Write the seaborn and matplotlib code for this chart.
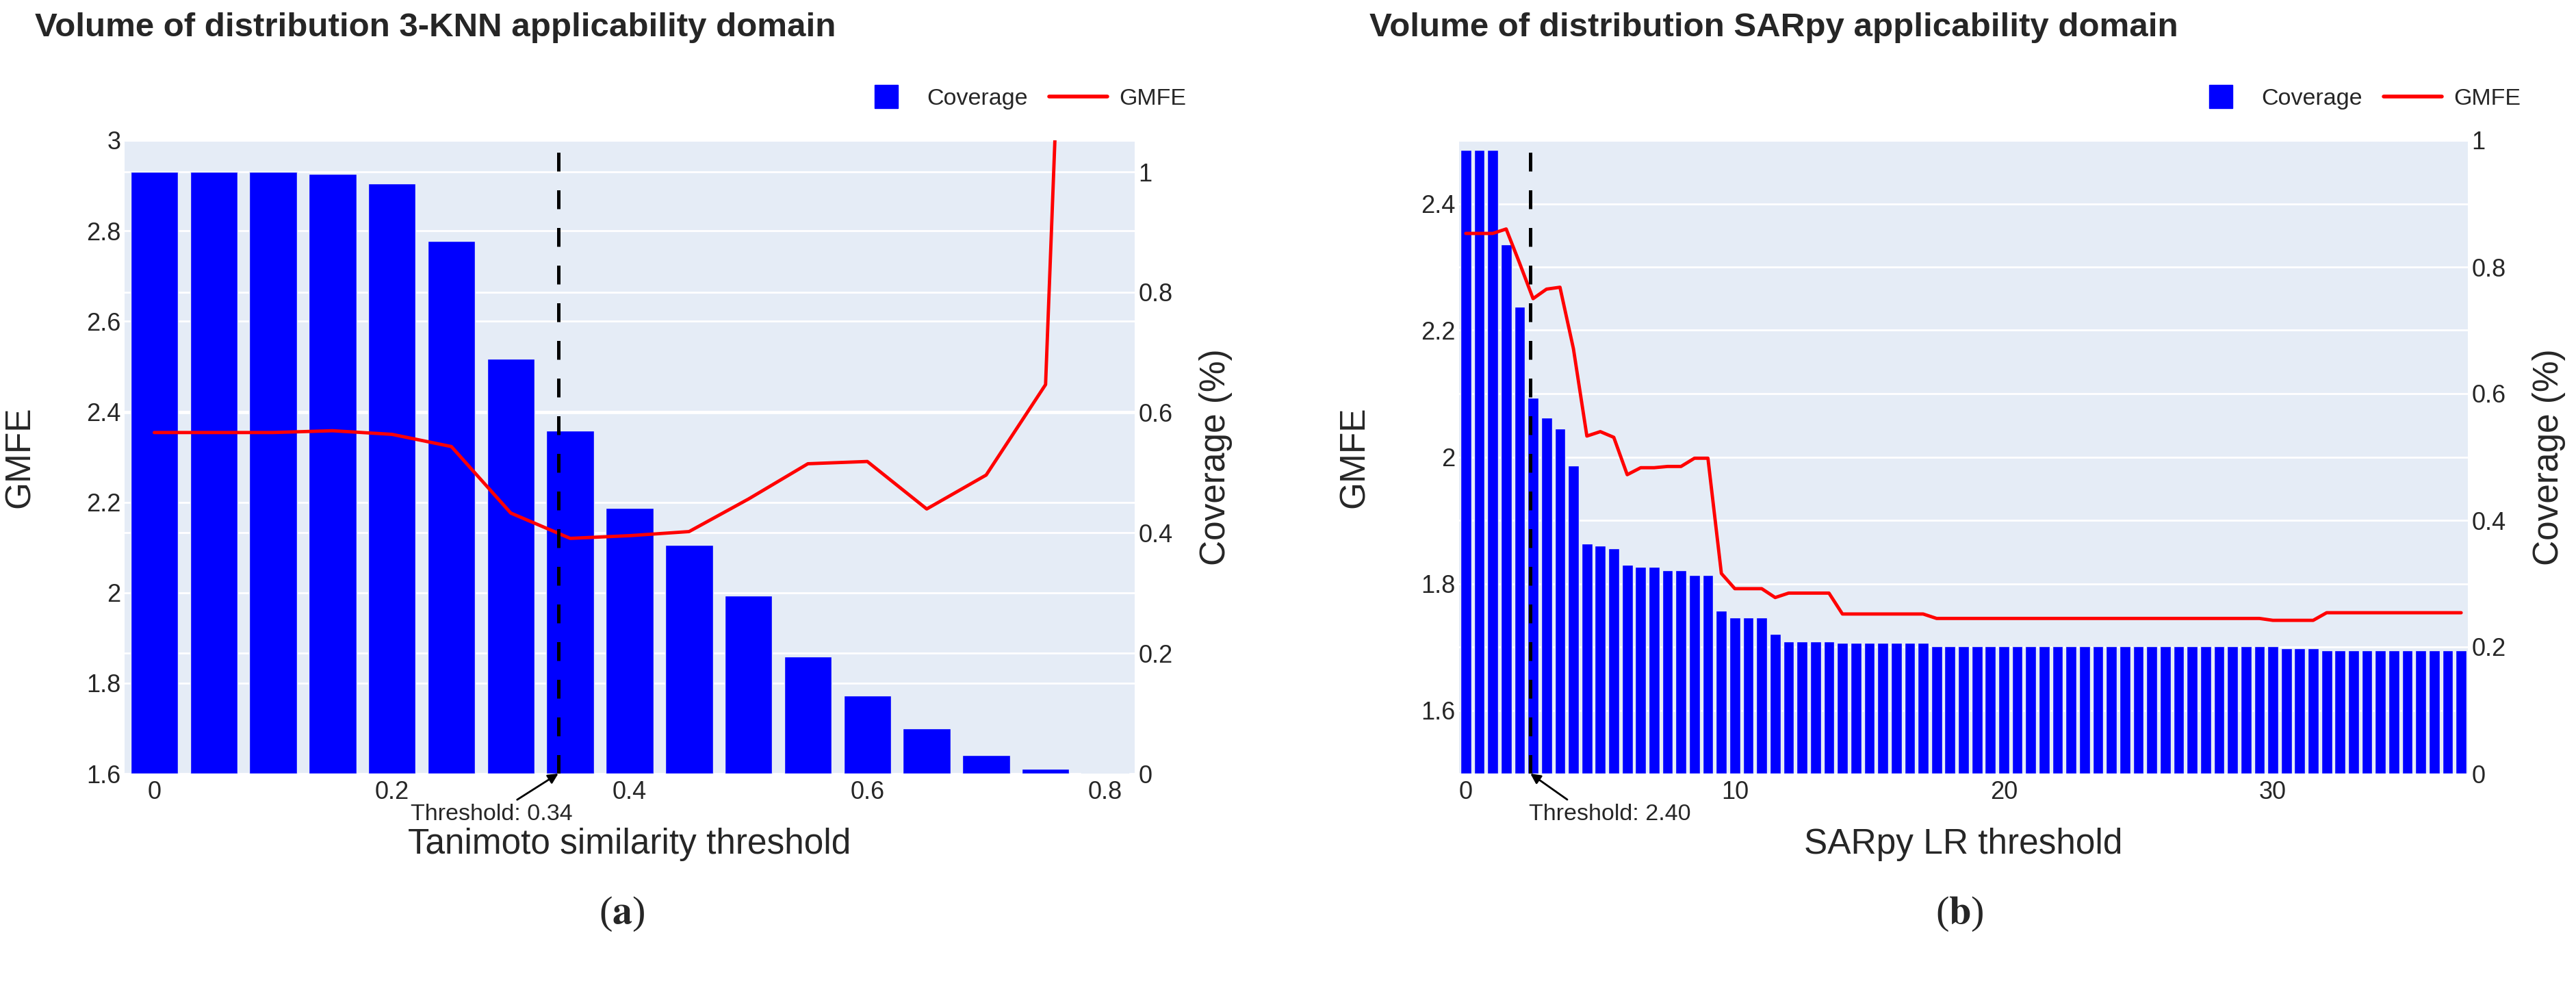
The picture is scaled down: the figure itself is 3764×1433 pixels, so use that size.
import matplotlib
matplotlib.use("Agg")
import matplotlib.pyplot as plt
from matplotlib.lines import Line2D
from matplotlib.ticker import FuncFormatter
import seaborn as sns

# ---- data ----
knn_threshold = [0.0, 0.05, 0.1, 0.15, 0.2, 0.25, 0.3, 0.35, 0.4, 0.45,
                 0.5, 0.55, 0.6, 0.65, 0.7, 0.75, 0.8]
knn_coverage = [1.0, 1.0, 1.0, 0.997, 0.981, 0.885, 0.690, 0.570, 0.441, 0.380,
                0.296, 0.195, 0.130, 0.075, 0.031, 0.008, 0.001]
knn_gmfe = [2.354, 2.354, 2.354, 2.358, 2.350, 2.323, 2.176, 2.120, 2.126, 2.135,
            2.207, 2.285, 2.290, 2.185, 2.260, 2.460, 5.9]

sarpy_threshold = [0.0, 0.5, 1.0, 1.5, 2.0, 2.5, 3.0, 3.5, 4.0, 4.5,
                   5.0, 5.5, 6.0, 6.5, 7.0, 7.5, 8.0, 8.5, 9.0, 9.5,
                   10.0, 10.5, 11.0, 11.5, 12.0, 12.5, 13.0, 13.5, 14.0, 14.5,
                   15.0, 15.5, 16.0, 16.5, 17.0, 17.5, 18.0, 18.5, 19.0, 19.5,
                   20.0, 20.5, 21.0, 21.5, 22.0, 22.5, 23.0, 23.5, 24.0, 24.5,
                   25.0, 25.5, 26.0, 26.5, 27.0, 27.5, 28.0, 28.5, 29.0, 29.5,
                   30.0, 30.5, 31.0, 31.5, 32.0, 32.5, 33.0, 33.5, 34.0, 34.5,
                   35.0, 35.5, 36.0, 36.5, 37.0]
sarpy_coverage = [0.985, 0.985, 0.985, 0.836, 0.737, 0.593, 0.562, 0.545, 0.486, 0.363,
                  0.360, 0.356, 0.330, 0.326, 0.326, 0.321, 0.321, 0.314, 0.314, 0.257,
                  0.247, 0.247, 0.247, 0.221, 0.209, 0.209, 0.209, 0.209, 0.206, 0.206,
                  0.206, 0.206, 0.206, 0.206, 0.206, 0.201, 0.201, 0.201, 0.201, 0.201,
                  0.201, 0.201, 0.201, 0.201, 0.201, 0.201, 0.201, 0.201, 0.201, 0.201,
                  0.201, 0.201, 0.201, 0.201, 0.201, 0.201, 0.201, 0.201, 0.201, 0.201,
                  0.201, 0.198, 0.198, 0.198, 0.195, 0.195, 0.195, 0.195, 0.195, 0.195,
                  0.195, 0.195, 0.195, 0.195, 0.195]
sarpy_gmfe = [2.353, 2.353, 2.353, 2.360, 2.306, 2.250, 2.265, 2.268, 2.171, 2.033,
              2.040, 2.031, 1.972, 1.983, 1.983, 1.985, 1.985, 1.998, 1.998, 1.816,
              1.792, 1.792, 1.792, 1.778, 1.785, 1.785, 1.785, 1.785, 1.752, 1.752,
              1.752, 1.752, 1.752, 1.752, 1.752, 1.745, 1.745, 1.745, 1.745, 1.745,
              1.745, 1.745, 1.745, 1.745, 1.745, 1.745, 1.745, 1.745, 1.745, 1.745,
              1.745, 1.745, 1.745, 1.745, 1.745, 1.745, 1.745, 1.745, 1.745, 1.745,
              1.742, 1.742, 1.742, 1.742, 1.754, 1.754, 1.754, 1.754, 1.754, 1.754,
              1.754, 1.754, 1.754, 1.754, 1.754]

knn_title = "Volume of distribution 3-KNN applicability domain"
sarpy_title = "Volume of distribution SARpy applicability domain"

bar_blue = "#0000FF"
line_red = "#FF0000"
plot_bg = "#E5ECF6"

fs_tick = 26
fs_axis = 37
fs_legend = 24.5
fs_title = 35.5

sns.set_style("darkgrid", {"axes.facecolor": plot_bg, "grid.color": "white"})
plt.rcParams["font.family"] = ["Liberation Sans", "DejaVu Sans"]
plt.rcParams["mathtext.fontset"] = "stix"

fig = plt.figure(figsize=(37.64, 14.33), dpi=100)
fmt = FuncFormatter(lambda v, p: f"{v:g}")


def draw_panel(rect, xs, cov, gmfe, cov_max, gmfe_lim, gmfe_ticks, xlim, xticks,
               threshold, thr_text, thr_text_x, thr_relx, xlabel):
	ax = fig.add_axes(rect)
	sns.barplot(x=xs, y=cov, ax=ax, native_scale=True, color=bar_blue,
	            saturation=1, width=0.8, errorbar=None,
	            edgecolor=plot_bg, linewidth=1)
	ax.set_xlim(*xlim)
	ax.set_ylim(0, cov_max)

	ax2 = ax.twinx()
	sns.lineplot(x=xs, y=gmfe, ax=ax2, color=line_red, linewidth=3.5)
	ax2.set_ylim(*gmfe_lim)
	ax2.set_xlim(*xlim)

	# coverage axis on the right, GMFE on the left
	ax.yaxis.tick_right()
	ax.yaxis.set_label_position("right")
	ax2.yaxis.tick_left()
	ax2.yaxis.set_label_position("left")

	ax.set_yticks([0, 0.2, 0.4, 0.6, 0.8, 1.0])
	g0, g1 = gmfe_lim
	ax.set_yticks([(g - g0) / (g1 - g0) * cov_max for g in gmfe_ticks], minor=True)
	ax.yaxis.set_major_formatter(fmt)
	ax.set_xticks(xticks)
	ax.xaxis.set_major_formatter(fmt)
	ax.grid(False)
	ax.grid(axis="y", which="both", color="white", linewidth=2)

	ax2.set_yticks(gmfe_ticks)
	ax2.yaxis.set_major_formatter(fmt)
	ax2.grid(False)

	for a in (ax, ax2):
		for s in a.spines.values():
			s.set_visible(False)
		a.tick_params(which="both", length=0, labelsize=fs_tick)
	ax.tick_params(axis="x", pad=7)
	ax.tick_params(axis="y", pad=4)
	ax2.tick_params(axis="y", pad=4)

	ax2.axvline(threshold, color="black", linewidth=3.6,
	            linestyle=(0, (5.5, 5.5)), zorder=5)
	ax2.annotate(
		thr_text,
		xy=(threshold, 0), xycoords=("data", "axes fraction"),
		xytext=(thr_text_x, -0.064), textcoords=("data", "axes fraction"),
		ha="center", va="center", fontsize=24.5,
		arrowprops=dict(arrowstyle="-|>", color="black", lw=2,
		                mutation_scale=22, shrinkA=3, shrinkB=0,
		                relpos=(thr_relx, 1.0)),
		annotation_clip=False,
	)

	ax.set_xlabel(xlabel, fontsize=fs_axis)
	ax.xaxis.set_label_coords(0.5, -0.112)
	ax.xaxis.label.set_va("center")
	ax2.set_ylabel("GMFE", fontsize=fs_axis)
	ax2.yaxis.set_label_coords(-0.087, 0.5)
	ax.set_ylabel("Coverage (%)", fontsize=fs_axis)
	ax.yaxis.set_label_coords(1.064, 0.5)
	return ax, ax2


def add_legend(x_right, y):
	handles = [
		Line2D([], [], linestyle="none", marker="s", markersize=24,
		       color=bar_blue, markeredgecolor=bar_blue),
		Line2D([], [], color=line_red, linewidth=4),
	]
	fig.legend(handles=handles, labels=["Coverage", "GMFE"], ncol=2,
	           frameon=False, loc="center right", bbox_to_anchor=(x_right, y),
	           fontsize=fs_legend, handlelength=2.5, handletextpad=0.5,
	           columnspacing=0.9, borderpad=0, borderaxespad=0)


W, H = 3764, 1433
bottom = (H - 1130) / H
height = 925 / H

draw_panel([182 / W, bottom, 1476 / W, height],
           knn_threshold, knn_coverage, knn_gmfe,
           cov_max=1.0526, gmfe_lim=(1.6, 3.0),
           gmfe_ticks=[1.6, 1.8, 2.0, 2.2, 2.4, 2.6, 2.8, 3.0],
           xlim=(-0.025, 0.825), xticks=[0, 0.2, 0.4, 0.6, 0.8],
           threshold=0.34, thr_text="Threshold: 0.34", thr_text_x=0.284,
           thr_relx=0.62, xlabel="Tanimoto similarity threshold")

draw_panel([2132 / W, bottom, 1474 / W, height],
           sarpy_threshold, sarpy_coverage, sarpy_gmfe,
           cov_max=1.0, gmfe_lim=(1.5, 2.5),
           gmfe_ticks=[1.6, 1.8, 2.0, 2.2, 2.4],
           xlim=(-0.25, 37.25), xticks=[0, 10, 20, 30],
           threshold=2.4, thr_text="Threshold: 2.40", thr_text_x=5.36,
           thr_relx=0.27, xlabel="SARpy LR threshold")

add_legend(1733 / W, 0.899)
add_legend(3683 / W, 0.899)

fig.text(51 / W, 0.972, knn_title, fontsize=fs_title, fontweight="bold",
         ha="left", va="center")
fig.text(2001 / W, 0.972, sarpy_title, fontsize=fs_title, fontweight="bold",
         ha="left", va="center")

serif = ["Liberation Serif", "DejaVu Serif"]
fig.text(909 / W, 0.068, r"($\mathbf{a}$)", fontsize=42, family=serif,
         ha="center", va="center")
fig.text(2863 / W, 0.068, r"($\mathbf{b}$)", fontsize=42, family=serif,
         ha="center", va="center")

fig.savefig("out.png", dpi=100)
